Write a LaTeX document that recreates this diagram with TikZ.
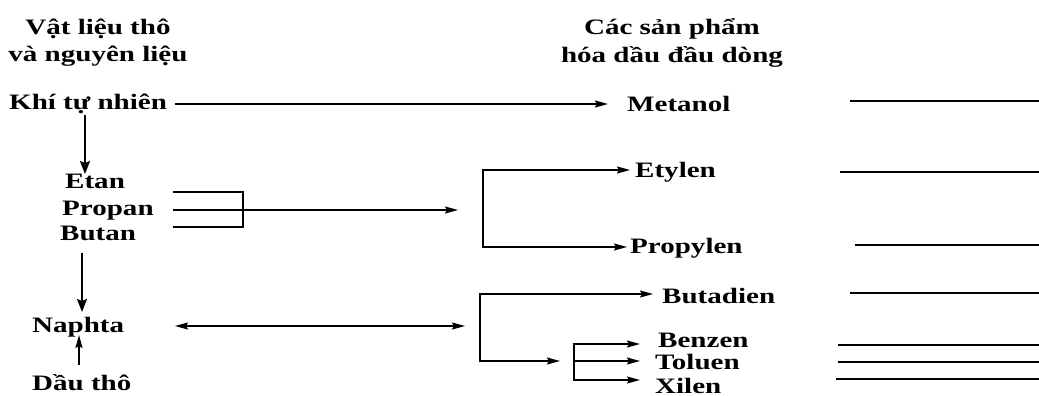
\documentclass[tikz,border=0pt]{standalone}
\usepackage{fontspec}
\setmainfont[FakeStretch=1.32]{Liberation Serif}
\usetikzlibrary{arrows.meta}
\begin{document}
\begin{tikzpicture}[x=1pt,y=-1pt,
  lbl/.style={anchor=base west,inner sep=0pt,font=\fontsize{22}{26}\selectfont\bfseries},
  hdr/.style={anchor=base,inner sep=0pt,font=\fontsize{22}{26}\selectfont\bfseries},
  ln/.style={line width=1.5pt},
  arr/.style={ln,-{Stealth[length=13pt,width=7pt,inset=2pt]}},
  bigarr/.style={ln,-{Stealth[length=13pt,width=10pt,inset=2pt]}},
  darr/.style={ln,{Stealth[length=13pt,width=7pt,inset=2pt]}-{Stealth[length=13pt,width=7pt,inset=2pt]}}]
\useasboundingbox (0,0) rectangle (1039,396);
% headers
\node[hdr] (h1a) at (98,35) {Vật liệu thô};
\node[hdr] (h1b) at (98,62) {và nguyên liệu};
\node[hdr] (h2a) at (672,35) {Các sản phẩm};
\node[hdr] (h2b) at (672,63) {hóa dầu đầu dòng};
% left column
\node[lbl] (khi) at (9,109) {Khí tự nhiên};
\node[lbl] (etan) at (65,188) {Etan};
\node[lbl] (propan) at (62,215) {Propan};
\node[lbl] (butan) at (60,240) {Butan};
\node[lbl] (naphta) at (32,332) {Naphta};
\node[lbl] (dau) at (32,390) {Dầu thô};
% products
\node[lbl] (metanol) at (627,111) {Metanol};
\node[lbl] (etylen) at (635,177) {Etylen};
\node[lbl] (propylen) at (630,253) {Propylen};
\node[lbl] (butadien) at (662,303) {Butadien};
\node[lbl] (benzen) at (658,347) {Benzen};
\node[lbl] (toluen) at (655,369) {Toluen};
\node[lbl] (xilen) at (655,393) {Xilen};
% coordinates
\coordinate (k1) at (175,104);
\coordinate (k2) at (608,104);
\coordinate (v1a) at (85,115);
\coordinate (v1b) at (85,174);
\coordinate (b1t) at (173,192);
\coordinate (b1m) at (173,210);
\coordinate (b1b) at (173,227);
\coordinate (j1t) at (243,192);
\coordinate (j1m) at (243,210);
\coordinate (j1b) at (243,227);
\coordinate (a1) at (458,210);
\coordinate (j2t) at (483,170);
\coordinate (j2b) at (483,247);
\coordinate (e1) at (630,170);
\coordinate (p1) at (627,247);
\coordinate (v2a) at (82,253);
\coordinate (v2b) at (82,312);
\coordinate (u1a) at (79,365);
\coordinate (u1b) at (79,335);
\coordinate (d1) at (175,326);
\coordinate (d2) at (465,326);
\coordinate (j3t) at (480,294);
\coordinate (j3b) at (480,361);
\coordinate (bd) at (653,294);
\coordinate (a2) at (560,361);
\coordinate (j4t) at (574,344);
\coordinate (j4m) at (574,361);
\coordinate (j4b) at (574,380);
\coordinate (bz) at (640,344);
\coordinate (tl) at (640,361);
\coordinate (xl) at (640,380);
% connectors
\draw[arr] (k1) -- (k2);
\draw[bigarr] (v1a) -- (v1b);
\draw[ln] (b1t) -- (j1t) -- (j1b) -- (b1b);
\draw[arr] (b1m) -- (a1);
\draw[arr] (j2b) -- (j2t) -- (e1);
\draw[arr] (j2t) |- (p1);
\draw[bigarr] (v2a) -- (v2b);
\draw[arr] (u1a) -- (u1b);
\draw[darr] (d1) -- (d2);
\draw[arr] (j3b) -- (j3t) -- (bd);
\draw[arr] (j3t) |- (a2);
\draw[arr] (j4b) -- (j4t) -- (bz);
\draw[arr] (j4m) -- (tl);
\draw[arr] (j4t) |- (xl);
% trailing lines
\draw[ln] (850,101) -- (1039,101);
\draw[ln] (840,172) -- (1039,172);
\draw[ln] (855,245) -- (1039,245);
\draw[ln] (850,293) -- (1039,293);
\draw[ln] (838,345) -- (1039,345);
\draw[ln] (838,362) -- (1039,362);
\draw[ln] (836,379) -- (1039,379);
\end{tikzpicture}
\end{document}
